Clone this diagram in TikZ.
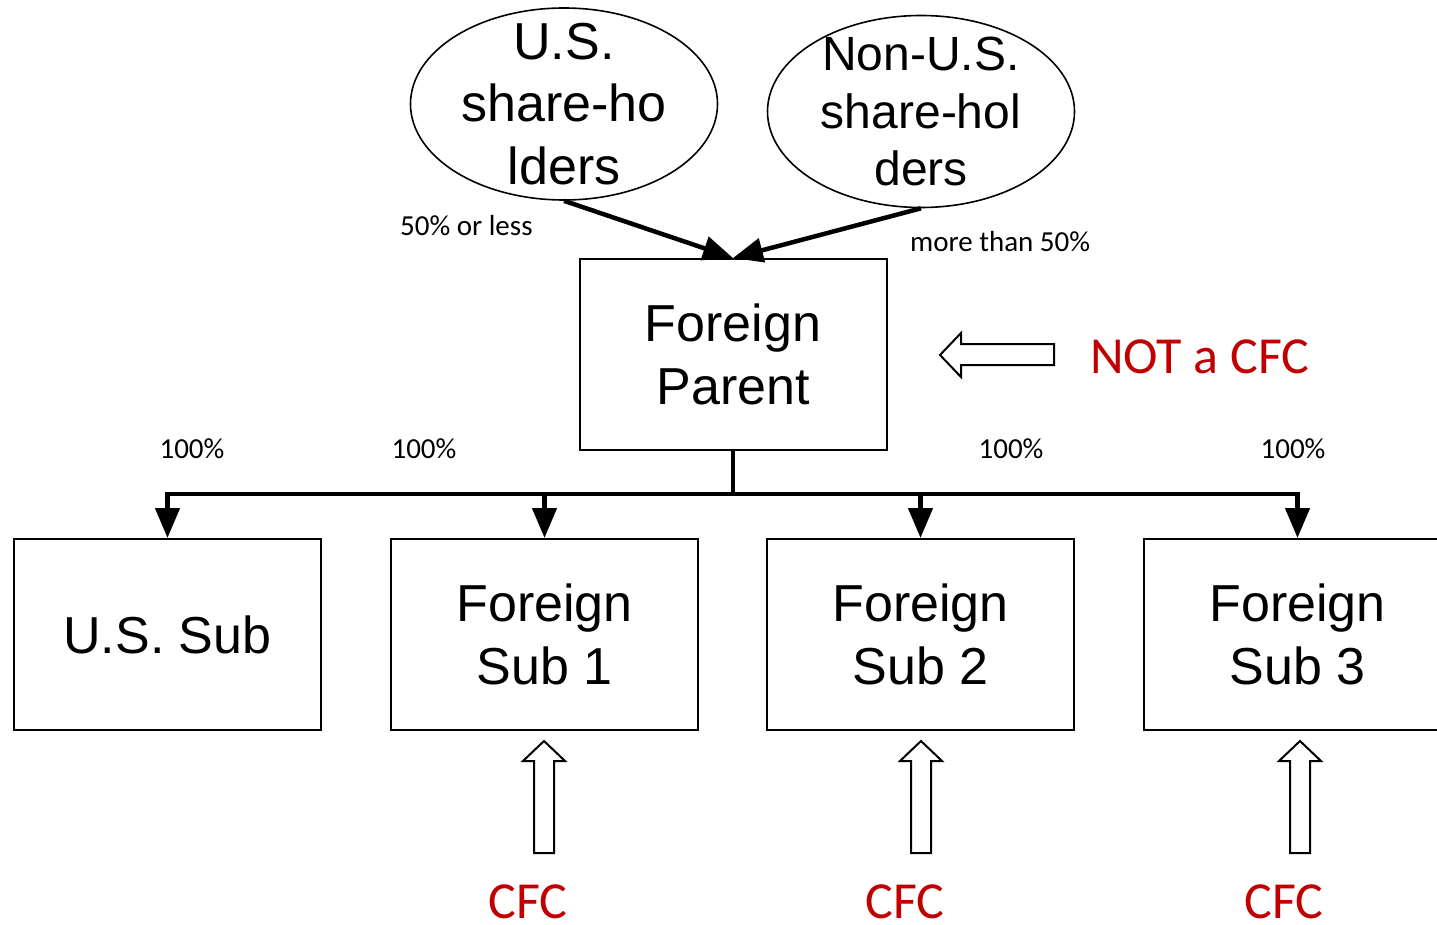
\documentclass[tikz,border=0pt]{standalone}
\usepackage{fontspec}
\setmainfont{Liberation Sans}
\newfontfamily\labelfont{Carlito}
\usetikzlibrary{shapes.geometric,arrows.meta}
\definecolor{cfcred}{HTML}{C00000}

\begin{document}
\begin{tikzpicture}[x=1pt,y=-1pt,
    entity/.style={draw, line width=2pt, minimum width=307pt, minimum height=191pt,
      inner sep=0pt, align=center, font=\fontsize{52}{62.4}\selectfont},
    holder/.style={draw, ellipse, line width=1.6pt, minimum width=307pt,
      minimum height=192pt, inner sep=0pt},
    holdertext/.style={inner sep=0pt, align=center},
    share/.style={font=\labelfont\fontsize{29}{34}\selectfont, inner sep=0pt},
    status/.style={font=\labelfont\fontsize{52}{62}\selectfont, text=cfcred, inner sep=0pt},
    own/.style={line width=4.5pt, line join=miter, -{Triangle[length=30pt,width=24pt]}},
    hollow/.style={draw, line width=2pt, fill=white, line join=miter}]
  \useasboundingbox (0,0) rectangle (1437,925);

  % Shareholders
  \node[holder] (us) at (564,104) {};
  \node[holdertext, font=\fontsize{52}{62.4}\selectfont] (ustext) at (us.center) {U.S.\\share-ho\\lders};
  \node[holder] (nonus) at (921,111.5) {};
  \node[holdertext, font=\fontsize{48}{57.6}\selectfont] (nonustext) at (nonus.center) {Non-U.S.\\share-hol\\ders};

  % Parent and subsidiaries
  \node[entity] (parent) at (733,354.5) {Foreign\\Parent};
  \node[entity] (ussub) at (167.5,634.5) {U.S. Sub};
  \node[entity] (sub1) at (544.5,634.5) {Foreign\\Sub 1};
  \node[entity] (sub2) at (920.5,634.5) {Foreign\\Sub 2};
  \node[entity] (sub3) at (1297.5,634.5) {Foreign\\Sub 3};

  % Ownership of the parent
  \draw[own] (us.south) -- (parent.north);
  \draw[own] (nonus.south) -- (parent.north);
  \node[share, anchor=base west] (lowshare) at (400,236) {50\% or less};
  \node[share, anchor=base west] (highshare) at (910,252) {more than 50\%};

  % Ownership of the subsidiaries
  \coordinate (fork) at (733,494);
  \draw[line width=4.5pt] (parent.south) -- (fork);
  \foreach \b in {ussub,sub1,sub2,sub3}
    \draw[own] (fork) -| (\b.north);
  \foreach \lx [count=\i] in {192,424,1011,1293}
    \node[share, anchor=base] (pct\i) at (\lx,458) {100\%};

  % CFC status
  \draw[hollow] (940,355) -- (961,333) -- (961,344) -- (1054,344) -- (1054,365)
    -- (961,365) -- (961,377) -- cycle;
  \node[status, anchor=base west] (notcfc) at (1090,373) {NOT a CFC};
  \foreach \ax/\lx [count=\i] in {544/528,921/905,1300/1284} {
    \draw[hollow, shift={(\ax,741)}] (0,0) -- (21,20) -- (10,20) -- (10,112)
      -- (-10,112) -- (-10,20) -- (-21,20) -- cycle;
    \node[status, anchor=base] (cfc\i) at (\lx,918) {CFC};
  }
\end{tikzpicture}
\end{document}
